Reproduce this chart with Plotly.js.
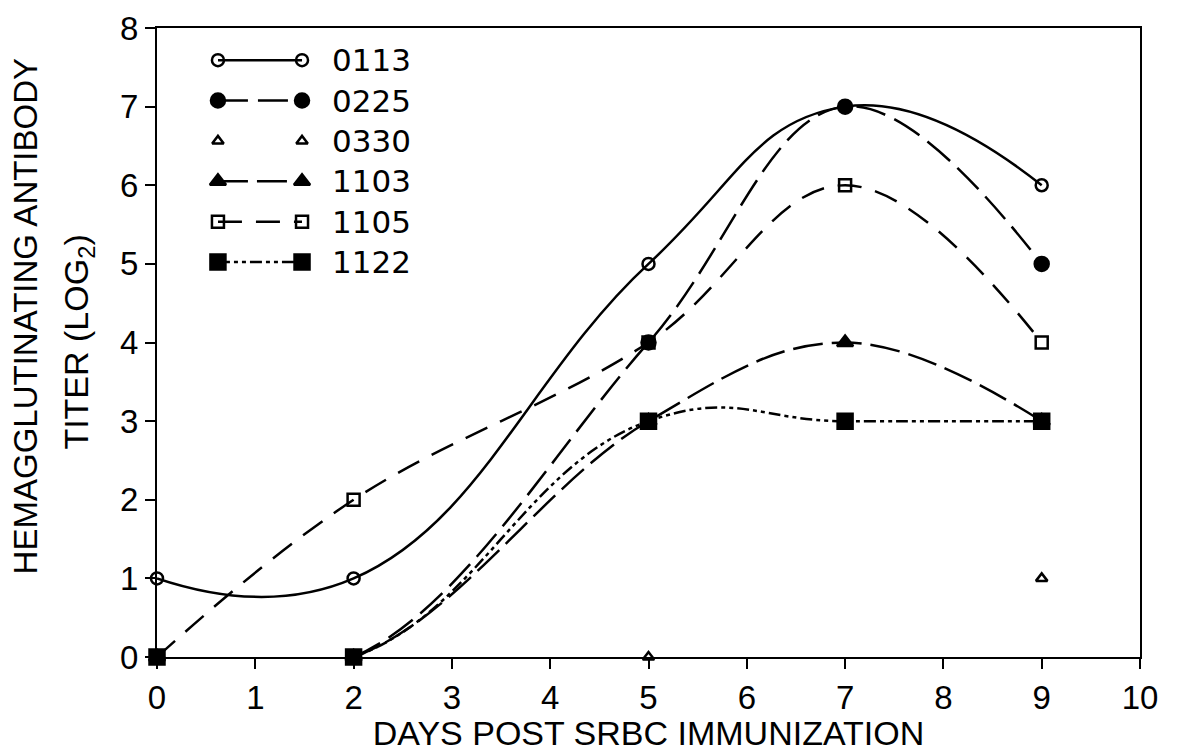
<!DOCTYPE html>
<html><head><meta charset="utf-8">
<script src="https://cdn.plot.ly/plotly-3.0.1.min.js"></script>
<style>html,body{margin:0;padding:0;background:#fff}#chart{width:1177px;height:752px}</style>
</head><body><div id="chart"></div>
<script>
// ---- data ----
const seriesNames = ["0113", "0225", "0330", "1103", "1105", "1122"];
const days_0113 = [0, 2, 5, 7, 9];
const titer_0113 = [1, 1, 5, 7, 6];
const days_0225 = [0, 2, 5, 7, 9];
const titer_0225 = [0, 0, 4, 7, 5];
const days_0330 = [0, 2, 5, 9];
const titer_0330 = [0, 0, 0, 1];
const days_1103 = [0, 2, 5, 7, 9];
const titer_1103 = [0, 0, 3, 4, 3];
const days_1105 = [0, 2, 5, 7, 9];
const titer_1105 = [0, 2, 4, 6, 4];
const days_1122 = [0, 2, 5, 7, 9];
const titer_1122 = [0, 0, 3, 3, 3];
const xTicks = [0,1,2,3,4,5,6,7,8,9,10];
const yTicks = [0,1,2,3,4,5,6,7,8];

// ---- styles ----
const FONT = "Liberation Sans, Arial, sans-serif";
const LFONT = "DejaVu Sans, sans-serif";
const styles = {
  "0113": {mode:"lines+markers", dash:"solid", symbol:"circle-open", size:12, smooth:1.3},
  "0225": {mode:"lines+markers", dash:"30px,10px", symbol:"circle", size:14, smooth:1.1},
  "0330": {mode:"markers", dash:"solid", symbol:"triangle-up-open", size:10, smooth:1},
  "1103": {mode:"lines+markers", dash:"30px,9px", symbol:"triangle-up", size:14, smooth:1.1},
  "1105": {mode:"lines+markers", dash:"24px,14px", symbol:"square-open", size:12, smooth:1.1},
  "1122": {mode:"lines+markers", dash:"12px,4px,4px,4px,4px,4px", symbol:"square", size:15, smooth:1.3}
};
const dataMap = {
  "0113": [days_0113, titer_0113],
  "0225": [days_0225, titer_0225],
  "0330": [days_0330, titer_0330],
  "1103": [days_1103, titer_1103],
  "1105": [days_1105, titer_1105],
  "1122": [days_1122, titer_1122]
};

const traces = [];
seriesNames.forEach(n => {
  const s = styles[n];
  traces.push({
    x: dataMap[n][0], y: dataMap[n][1], name: n, type: "scatter", mode: s.mode,
    line: {color: "#000", width: 2.5, dash: s.dash, shape: "spline", smoothing: s.smooth},
    marker: {symbol: s.symbol, size: s.size, color: "#000", line: {color: "#000", width: 2.5}},
    cliponaxis: false, showlegend: false, xaxis: "x", yaxis: "y"
  });
});
// custom legend samples (marker - line - marker), on hidden axes
const annotations = [];
seriesNames.forEach((n, i) => {
  const s = styles[n];
  traces.push({
    x: [0, 1], y: [i, i], type: "scatter", mode: s.mode, showlegend: false, hoverinfo: "skip",
    line: {color: "#000", width: 2.5, dash: s.dash},
    marker: {symbol: s.symbol, size: s.size, color: "#000", line: {color: "#000", width: 2.5}},
    cliponaxis: false, xaxis: "x2", yaxis: "y2"
  });
  annotations.push({xref:"x2", yref:"y2", x: 1.33, y: i, text: n, showarrow:false,
    xanchor:"left", yanchor:"middle", font:{family:LFONT, size:31, color:"#000"}});
});
// y-axis title (two lines)
annotations.push({xref:"paper", yref:"paper", x:-0.1336, y:0.541, xanchor:"center", yanchor:"middle",
  text:"HEMAGGLUTINATING ANTIBODY", textangle:-90, showarrow:false, font:{family:FONT, size:33, color:"#000"}});
annotations.push({xref:"paper", yref:"paper", x:-0.0796, y:0.501, xanchor:"center", yanchor:"middle",
  text:"TITER (LOG<sub>2</sub>)", textangle:-90, showarrow:false, font:{family:FONT, size:34, color:"#000"}});

const layout = {
  width: 1177, height: 752,
  margin: {l:157, r:37, t:28, b:95},
  paper_bgcolor: "#fff", plot_bgcolor: "#fff",
  showlegend: false,
  xaxis: {range:[0,10], tickvals:xTicks, ticks:"outside", ticklen:10, tickwidth:2, tickcolor:"#000",
    showline:true, linewidth:2, linecolor:"#000", mirror:true, showgrid:false, zeroline:false,
    tickfont:{family:FONT, size:33, color:"#000"},
    title:{text:"DAYS POST SRBC IMMUNIZATION", font:{family:FONT, size:34, color:"#000"}, standoff:0}},
  yaxis: {range:[0,8], tickvals:yTicks, ticks:"outside", ticklen:10, tickwidth:2, tickcolor:"#000",
    showline:true, linewidth:2, linecolor:"#000", mirror:true, showgrid:false, zeroline:false,
    tickfont:{family:FONT, size:33, color:"#000"}},
  xaxis2: {domain:[0.062, 0.3186], range:[0,3], visible:false, anchor:"y2"},
  yaxis2: {domain:[0.5958, 0.981], range:[5.5,-0.5], visible:false, anchor:"x2"},
  annotations: annotations
};
Plotly.newPlot("chart", traces, layout, {displayModeBar:false, staticPlot:true});
</script></body></html>
